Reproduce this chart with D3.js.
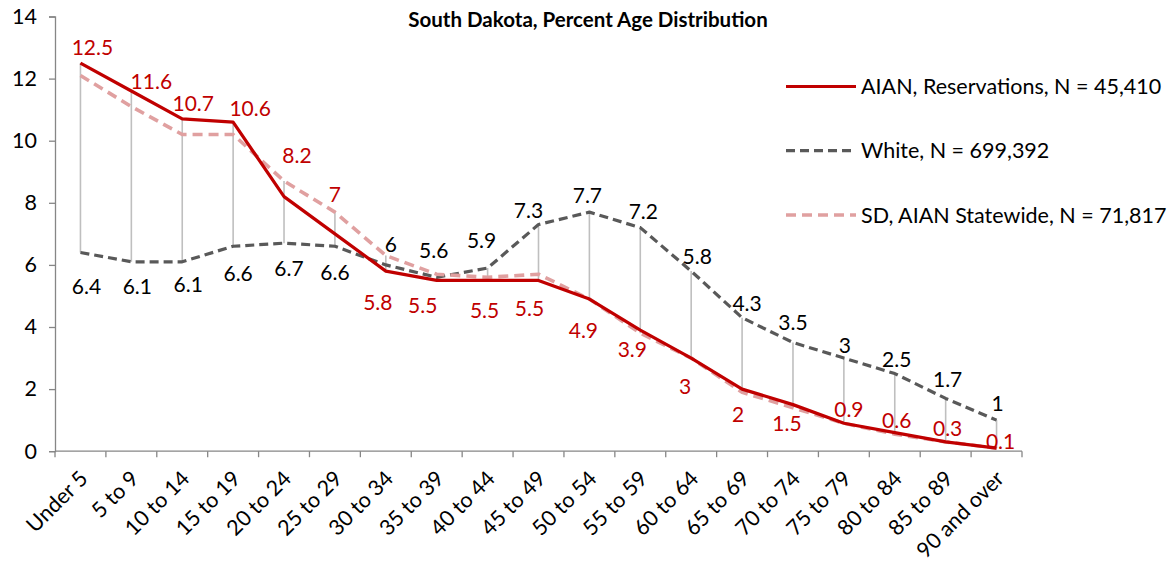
<!DOCTYPE html>
<html>
<head>
<meta charset="utf-8">
<script src="https://cdn.jsdelivr.net/npm/d3@7"></script>
<style>
  html, body { margin: 0; padding: 0; background: #fff; }
  svg { display: block; }
  text { font-family: Lato, "Open Sans", sans-serif; }
</style>
</head>
<body>
<svg id="chart" width="1172" height="567"></svg>
<script>
// ---- data ----
const categories = ["Under 5","5 to 9","10 to 14","15 to 19","20 to 24","25 to 29","30 to 34","35 to 39","40 to 44","45 to 49","50 to 54","55 to 59","60 to 64","65 to 69","70 to 74","75 to 79","80 to 84","85 to 89","90 and over"];
const aianReservations = [12.5, 11.6, 10.7, 10.6, 8.2, 7, 5.8, 5.5, 5.5, 5.5, 4.9, 3.9, 3, 2, 1.5, 0.9, 0.6, 0.3, 0.1];
const white = [6.4, 6.1, 6.1, 6.6, 6.7, 6.6, 6, 5.6, 5.9, 7.3, 7.7, 7.2, 5.8, 4.3, 3.5, 3, 2.5, 1.7, 1];
const sdAianStatewide = [12.1, 11.1, 10.2, 10.2, 8.7, 7.7, 6.3, 5.7, 5.6, 5.7, 4.9, 3.8, 3.0, 1.9, 1.4, 0.9, 0.55, 0.3, 0.1];
const yTicks = [0, 2, 4, 6, 8, 10, 12, 14];
const seriesNames = ["AIAN, Reservations, N = 45,410", "White, N = 699,392", "SD, AIAN Statewide, N = 71,817"];
const chartTitle = "South Dakota, Percent Age Distribution";

// ---- label placement (pixel offsets from the point) ----
const aianLabelOffsets = [[12,-16],[20,-10],[11,-16],[17,-14],[13,-41],[0,-39],[-8,31],[-14,25],[-3,30],[-9,28],[-6,31],[-8,19],[-6,28],[-4,25],[-6,19],[5,-14],[2,-12],[2,-13],[4,-7]];
const whiteLabelOffsets = [[6,34],[6,25],[6,23],[5,27],[5,25],[0,26],[5,-20],[-3,-27],[-6,-28],[-10,-14],[-2,-17],[3,-16],[6,-15],[5,-14],[0,-20],[1,-13],[2,-14],[2,-19],[1,-17]];

(function () {
const svg = d3.select("#chart");
const mLeft = 55, mRight = 1022, mTop = 16.5, mBottom = 451.2;

const x = d3.scaleBand().domain(categories).range([mLeft, mRight]).padding(0);
const y = d3.scaleLinear().domain([0, 14]).range([mBottom, mTop]);
const cx = c => x(c) + x.bandwidth() / 2;

const axisColor = "#868686";

// Title
svg.append("text")
  .attr("x", 588).attr("y", 27)
  .attr("text-anchor", "middle")
  .attr("font-size", 20.5).attr("font-weight", "bold").attr("fill", "#000")
  .text(chartTitle);

// Y axis
const yAxis = svg.append("g").attr("transform", `translate(${mLeft},0)`)
  .call(d3.axisLeft(y).tickValues(yTicks).tickSize(6).tickPadding(12).tickFormat(d3.format("d")));
yAxis.select(".domain").attr("stroke", axisColor).attr("stroke-width", 1.3);
yAxis.selectAll(".tick line").attr("stroke", axisColor).attr("stroke-width", 1.3);
yAxis.selectAll(".tick text").attr("font-size", 21.5).attr("fill", "#000").attr("font-family", "Lato, 'Open Sans', sans-serif");

// X axis (ticks at category boundaries)
const xAxisG = svg.append("g").attr("transform", `translate(0,${mBottom})`);
xAxisG.append("line").attr("x1", mLeft).attr("x2", mRight).attr("stroke", axisColor).attr("stroke-width", 1.3);
const boundaries = categories.map(c => x(c)).concat([mRight]);
xAxisG.selectAll("line.tk").data(boundaries).join("line").attr("class", "tk")
  .attr("x1", d => d).attr("x2", d => d).attr("y1", 0).attr("y2", 6)
  .attr("stroke", axisColor).attr("stroke-width", 1.3);
xAxisG.selectAll("text").data(categories).join("text")
  .attr("transform", d => `translate(${cx(d) - 2},${18}) rotate(-45)`)
  .attr("text-anchor", "end")
  .attr("dy", "0.7em")
  .attr("font-size", 21.5).attr("fill", "#000")
  .text(d => d);

// High-low lines
svg.append("g").selectAll("line").data(categories).join("line")
  .attr("x1", d => cx(d)).attr("x2", d => cx(d))
  .attr("y1", (d, i) => y(Math.max(aianReservations[i], white[i], sdAianStatewide[i])))
  .attr("y2", (d, i) => y(Math.min(aianReservations[i], white[i], sdAianStatewide[i])))
  .attr("stroke", "#BFBFBF").attr("stroke-width", 1.6);

const lineGen = vals => d3.line().x((d, i) => cx(categories[i])).y(d => y(d))(vals);

svg.append("path").attr("d", lineGen(white))
  .attr("fill", "none").attr("stroke", "#595959").attr("stroke-width", 3.2)
  .attr("stroke-dasharray", "9,5").attr("stroke-linejoin", "round");
svg.append("path").attr("d", lineGen(sdAianStatewide))
  .attr("fill", "none").attr("stroke", "#E0A0A0").attr("stroke-width", 3.6)
  .attr("stroke-dasharray", "10,6").attr("stroke-linejoin", "round");
svg.append("path").attr("d", lineGen(aianReservations))
  .attr("fill", "none").attr("stroke", "#C00000").attr("stroke-width", 3.2)
  .attr("stroke-linejoin", "round");

// Data labels
svg.append("g").selectAll("text").data(white).join("text")
  .attr("x", (d, i) => cx(categories[i]) + whiteLabelOffsets[i][0])
  .attr("y", (d, i) => y(d) + whiteLabelOffsets[i][1])
  .attr("dy", "0.36em").attr("text-anchor", "middle")
  .attr("font-size", 21).attr("fill", "#000")
  .text(d => d);
svg.append("g").selectAll("text").data(aianReservations).join("text")
  .attr("x", (d, i) => cx(categories[i]) + aianLabelOffsets[i][0])
  .attr("y", (d, i) => y(d) + aianLabelOffsets[i][1])
  .attr("dy", "0.36em").attr("text-anchor", "middle")
  .attr("font-size", 21).attr("fill", "#C00000")
  .text(d => d);

// Legend
const legendY = [86.5, 150.7, 215];
const legendStyles = [
  {stroke: "#C00000", dash: null, w: 3.2},
  {stroke: "#595959", dash: "9,5", w: 3.2},
  {stroke: "#E0A0A0", dash: "10,6", w: 3.6}
];
const lg = svg.append("g");
seriesNames.forEach((name, i) => {
  lg.append("line").attr("x1", 786).attr("x2", 856)
    .attr("y1", legendY[i]).attr("y2", legendY[i])
    .attr("stroke", legendStyles[i].stroke).attr("stroke-width", legendStyles[i].w)
    .attr("stroke-dasharray", legendStyles[i].dash);
  lg.append("text").attr("x", 861).attr("y", legendY[i]).attr("dy", "0.36em")
    .attr("font-size", 21.5).attr("fill", "#000").text(name);
});
})();
</script>
</body>
</html>
